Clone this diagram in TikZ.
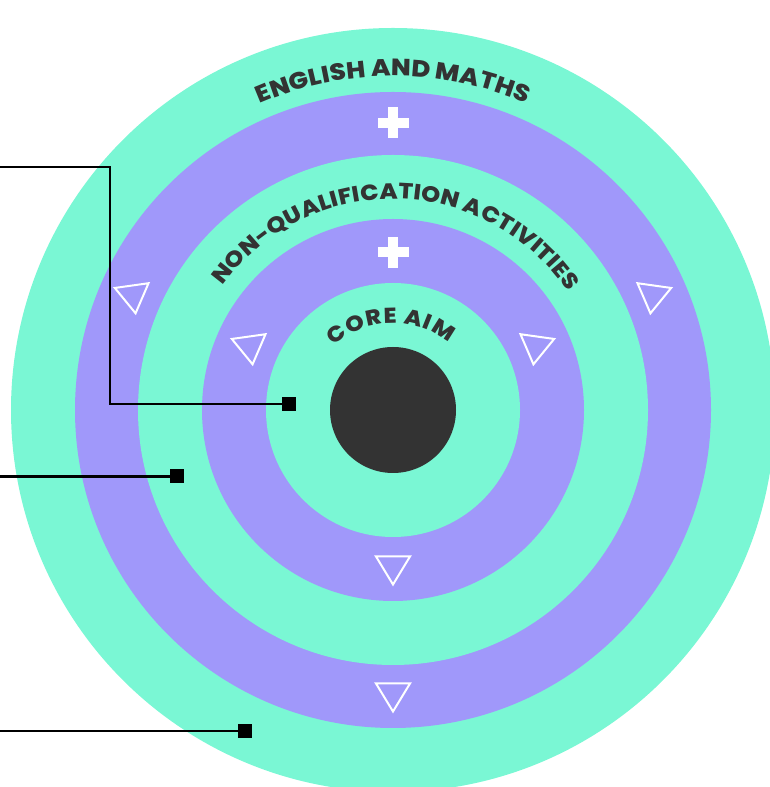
\documentclass[tikz,border=0pt]{standalone}
\usepackage{fontspec}
\usetikzlibrary{decorations.text,calc}
\IfFontExistsTF{Poppins ExtraBold}
  {\newfontfamily\lblfont{Poppins ExtraBold}[FakeStretch=1.1]\newcommand\lblwt{}}
  {\newfontfamily\lblfont{Poppins}[FakeStretch=1.1]\newcommand\lblwt{\bfseries}}
\definecolor{mint}{HTML}{7AF7D4}
\definecolor{purp}{HTML}{A098FA}
\definecolor{ink}{HTML}{333333}
\newcommand\fA{\lblfont\lblwt\fontsize{23.5}{25}\selectfont\color{ink}}
\newcommand\fB{\lblfont\lblwt\fontsize{22}{24}\selectfont\color{ink}}
\newcommand\fC{\lblfont\lblwt\fontsize{21.5}{23}\selectfont\color{ink}}
\begin{document}
\begin{tikzpicture}[x=1pt,y=1pt,
  disc/.style={circle, inner sep=0pt, outer sep=0pt, draw=none},
  sq/.style={rectangle, fill=black, minimum size=14pt, inner sep=0pt, outer sep=0pt},
  conn/.style={draw=black, line width=2.2pt},
  pics/tri/.style={code={\draw[white, line width=2pt, line join=miter] (-17,9.5) -- (17,9.5) -- (0,-18.5) -- cycle;}},
  pics/plus/.style={code={\fill[white] (-15.5,-5) rectangle (15.5,5); \fill[white] (-5,-15.5) rectangle (5,15.5);}},
  arctext/.style={decorate, decoration={text along path, text align={fit to path}}}
]
\useasboundingbox (0,0) rectangle (770,787);
\clip (0,0) rectangle (770,787);
\coordinate (c) at (393,377);
\node[disc, fill=mint, minimum size=764pt] (r1) at (c) {};
\node[disc, fill=purp, minimum size=636pt] (r2) at (c) {};
\node[disc, fill=mint, minimum size=510pt] (r3) at (c) {};
\node[disc, fill=purp, minimum size=382pt] (r4) at (c) {};
\node[disc, fill=mint, minimum size=254pt] (r5) at (c) {};
\node[disc, fill=ink, minimum size=126pt] (core) at (c) {};

% curved labels
\path[arctext, decoration={text={|\fA|ENGLISH AND MATHS}}]
  ($(c)+(113.5:334)$) arc[start angle=113.5, end angle=66.5, radius=334];
\path[arctext, decoration={text={|\fB|NON-QUALIFICATION ACTIVITIES}}]
  ($(c)+(144:211)$) arc[start angle=144, end angle=34, radius=211];
\path[arctext, decoration={text={|\fC|CORE AIM}}]
  ($(c)+(132.5:87)$) arc[start angle=132.5, end angle=50.5, radius=87];

% plus signs
\pic at (393,664) {plus};
\pic at (393,534.5) {plus};

% triangles
\pic[rotate=8] at (133,492) {tri};
\pic[rotate=-8] at (653,492) {tri};
\pic[rotate=8] at (250,441) {tri};
\pic[rotate=-8] at (536,441) {tri};
\pic at (393,221) {tri};
\pic at (393,94) {tri};

% connectors
\node[sq] (s1) at (289,383) {};
\node[sq] (s2) at (177,310.5) {};
\node[sq] (s3) at (245,56) {};
\coordinate (l1) at (0,620);
\coordinate (b1) at (110,383);
\coordinate (l2) at (0,310.5);
\coordinate (l3) at (0,56);
\draw[conn] (l1) -| (b1) -- (s1);
\draw[conn] (l2) -- (s2);
\draw[conn] (l3) -- (s3);
\end{tikzpicture}
\end{document}
